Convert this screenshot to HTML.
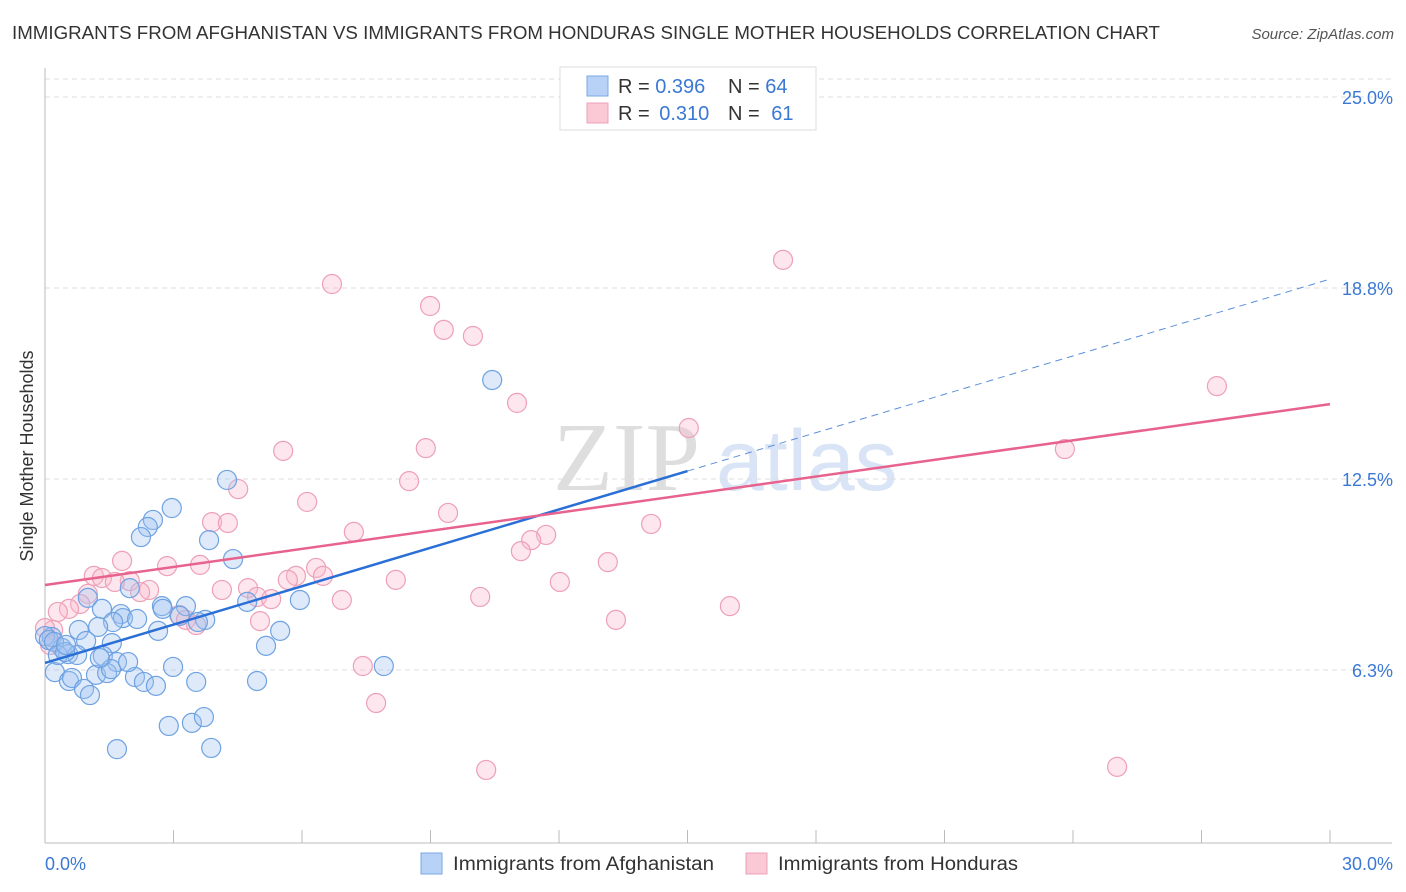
<!DOCTYPE html>
<html><head><meta charset="utf-8"><style>
body{margin:0;background:#fff;font-family:"Liberation Sans",sans-serif;}
svg{display:block}
</style></head><body>
<svg id="chart" width="1406" height="892" xmlns="http://www.w3.org/2000/svg" font-family="Liberation Sans, sans-serif">
<text x="12" y="39" font-size="18" fill="#333" textLength="1148" lengthAdjust="spacingAndGlyphs">IMMIGRANTS FROM AFGHANISTAN VS IMMIGRANTS FROM HONDURAS SINGLE MOTHER HOUSEHOLDS CORRELATION CHART</text>
<text x="1394" y="39" font-size="15" font-style="italic" fill="#555" text-anchor="end">Source: ZipAtlas.com</text>
<g>
<text x="553" y="490" font-size="98" font-family="Liberation Serif, serif" fill="#dedede">ZIP</text>
<text x="716" y="490" font-size="86" fill="#d9e5f6">atlas</text>
</g>
<g id="grid"></g>
<g id="axes"></g>
<g id="pts"></g>
<g id="lines"></g>
<text transform="translate(33,456) rotate(-90)" font-size="18" fill="#333" text-anchor="middle">Single Mother Households</text>
<g>
<rect x="560" y="67" width="256" height="63" fill="#fff" stroke="#ddd"/>
<rect x="587" y="76" width="21" height="20" fill="#b7d2f6" stroke="#7aa8e6"/>
<rect x="587" y="103" width="21" height="20" fill="#fbc8d6" stroke="#eea0b8"/>
<text x="618" y="93" font-size="20" fill="#333">R = <tspan fill="#3a78d4">0.396</tspan></text>
<text x="728" y="93" font-size="20" fill="#333">N = <tspan fill="#3a78d4">64</tspan></text>
<text x="618" y="120" font-size="20" fill="#333">R = <tspan fill="#3a78d4" dx="4">0.310</tspan></text>
<text x="728" y="120" font-size="20" fill="#333">N = <tspan fill="#3a78d4" dx="6">61</tspan></text>
</g>
<g>
<rect x="421" y="853" width="21" height="21" fill="#b7d2f6" stroke="#7aa8e6"/>
<text x="453" y="870" font-size="19" fill="#333" textLength="261" lengthAdjust="spacingAndGlyphs">Immigrants from Afghanistan</text>
<rect x="746" y="853" width="21" height="21" fill="#fbc8d6" stroke="#eea0b8"/>
<text x="778" y="870" font-size="19" fill="#333" textLength="240" lengthAdjust="spacingAndGlyphs">Immigrants from Honduras</text>
</g>
</svg>
<script>
const blueX=[10.44,4.25,2.96,2.52,2.40,2.24,3.83,4.39,1.00,1.98,1.77,1.82,1.33,2.15,2.73,2.75,3.29,3.15,3.74,3.57,4.72,5.95,5.49,5.16,2.64,1.59,1.24,0.79,0.16,0.00,0.40,0.54,0.96,1.56,0.75,1.35,1.68,0.23,0.56,0.63,1.19,1.45,1.54,0.91,1.05,2.10,2.31,2.59,3.53,2.99,4.95,7.91,2.89,3.43,3.71,3.88,1.68,0.09,0.21,0.30,0.47,1.28,1.94,0.49];
const blueY=[15.74,12.47,11.55,11.16,10.93,10.60,10.50,9.88,8.61,8.93,8.08,7.95,8.25,7.92,8.34,8.25,8.34,8.02,7.89,7.82,8.48,8.54,7.53,7.04,7.53,7.82,7.66,7.56,7.33,7.36,6.97,6.77,7.20,7.13,6.74,6.71,6.51,6.18,5.89,5.99,6.09,6.15,6.28,5.63,5.43,6.02,5.86,5.73,5.86,6.35,5.89,6.38,4.42,4.52,4.71,3.70,3.66,7.23,7.17,6.74,6.84,6.64,6.51,7.07];
const pinkX=[17.23,6.70,8.99,9.31,9.99,11.02,27.36,5.56,8.89,15.03,23.81,4.51,8.50,6.12,9.41,3.90,4.27,7.21,14.15,11.70,11.35,11.11,1.80,2.85,3.62,6.33,5.86,6.49,1.14,1.33,1.98,2.43,1.63,2.22,4.74,5.67,8.19,12.02,13.14,1.00,0.82,0.56,0.30,3.13,3.29,3.53,4.95,5.28,6.93,10.16,15.99,13.33,5.02,4.13,0.19,0.12,7.42,7.73,10.30,25.03,0.00];
const pinkY=[19.67,18.88,18.16,17.38,17.18,14.99,15.54,13.42,13.51,14.17,13.48,12.17,12.43,11.75,11.39,11.09,11.06,10.77,11.03,10.67,10.50,10.14,9.82,9.65,9.69,9.59,9.33,9.33,9.33,9.26,9.16,8.87,9.13,8.80,8.93,9.20,9.20,9.13,9.78,8.74,8.41,8.25,8.15,8.05,7.89,7.72,8.64,8.57,8.54,8.64,8.34,7.89,7.85,8.87,7.56,7.07,6.38,5.17,2.98,3.08,7.62];
const yTicks=[6.25,12.5,18.75,25];
const yTickLabels=["6.3%","12.5%","18.8%","25.0%"];
const blueTrend=[6.48,12.76,19.04];
const pinkTrend=[9.03,14.95];
const NS="http://www.w3.org/2000/svg";
const sx=v=>45+v/30*1285;
const sy=v=>861-v/6.25*191;
function mk(tag,attrs,parent){const e=document.createElementNS(NS,tag);for(const k in attrs)e.setAttribute(k,attrs[k]);parent.appendChild(e);return e;}
const grid=document.getElementById('grid'),axes=document.getElementById('axes'),pts=document.getElementById('pts'),lines=document.getElementById('lines');
mk('line',{x1:45,x2:1392,y1:79,y2:79,stroke:'#ddd','stroke-dasharray':'5,4'},grid);
yTicks.forEach((t,i)=>{
  const g=mk('line',{x1:45,x2:1392,y1:sy(t),y2:sy(t),stroke:'#ddd','stroke-dasharray':'5,4'},grid);
  
  
  const l=mk('text',{x:1393,y:sy(t)+7,'font-size':18,fill:'#3a78d4','text-anchor':'end'},axes);
  l.textContent=yTickLabels[i];
  
  
});
mk('line',{x1:45,x2:45,y1:68,y2:843,stroke:'#bbb'},axes);
mk('line',{x1:45,x2:1392,y1:843,y2:843,stroke:'#bbb'},axes);
for(let i=0;i<=10;i++){const x=sx(i*3);mk('line',{x1:x,x2:x,y1:830,y2:843,stroke:'#bbb'},axes);}
const x0=mk('text',{x:45,y:870,'font-size':18,fill:'#3a78d4'},axes);x0.textContent='0.0%';


const x1=mk('text',{x:1393,y:870,'font-size':18,fill:'#3a78d4','text-anchor':'end'},axes);x1.textContent='30.0%';


pinkX.forEach((x,i)=>{
  const c=mk('circle',{cx:sx(x),cy:sy(pinkY[i]),r:9.5,fill:'rgba(248,182,202,0.35)',stroke:'#eda0b8','stroke-width':1.2},pts);
  
  
});
blueX.forEach((x,i)=>{
  const c=mk('circle',{cx:sx(x),cy:sy(blueY[i]),r:9.5,fill:'rgba(160,196,240,0.35)',stroke:'#6ea2e2','stroke-width':1.2},pts);
  
  
});
const bl=mk('line',{x1:sx(0),y1:sy(blueTrend[0]),x2:sx(15),y2:sy(blueTrend[1]),stroke:'#2a6fd6','stroke-width':2.5},lines);


const bd=mk('line',{x1:sx(15),y1:sy(blueTrend[1]),x2:sx(30),y2:sy(blueTrend[2]),stroke:'#5b8fdc','stroke-width':1,'stroke-dasharray':'7,5'},lines);


const pl=mk('line',{x1:sx(0),y1:sy(pinkTrend[0]),x2:sx(30),y2:sy(pinkTrend[1]),stroke:'#e8628e','stroke-width':2.5},lines);


</script>
</body></html>
